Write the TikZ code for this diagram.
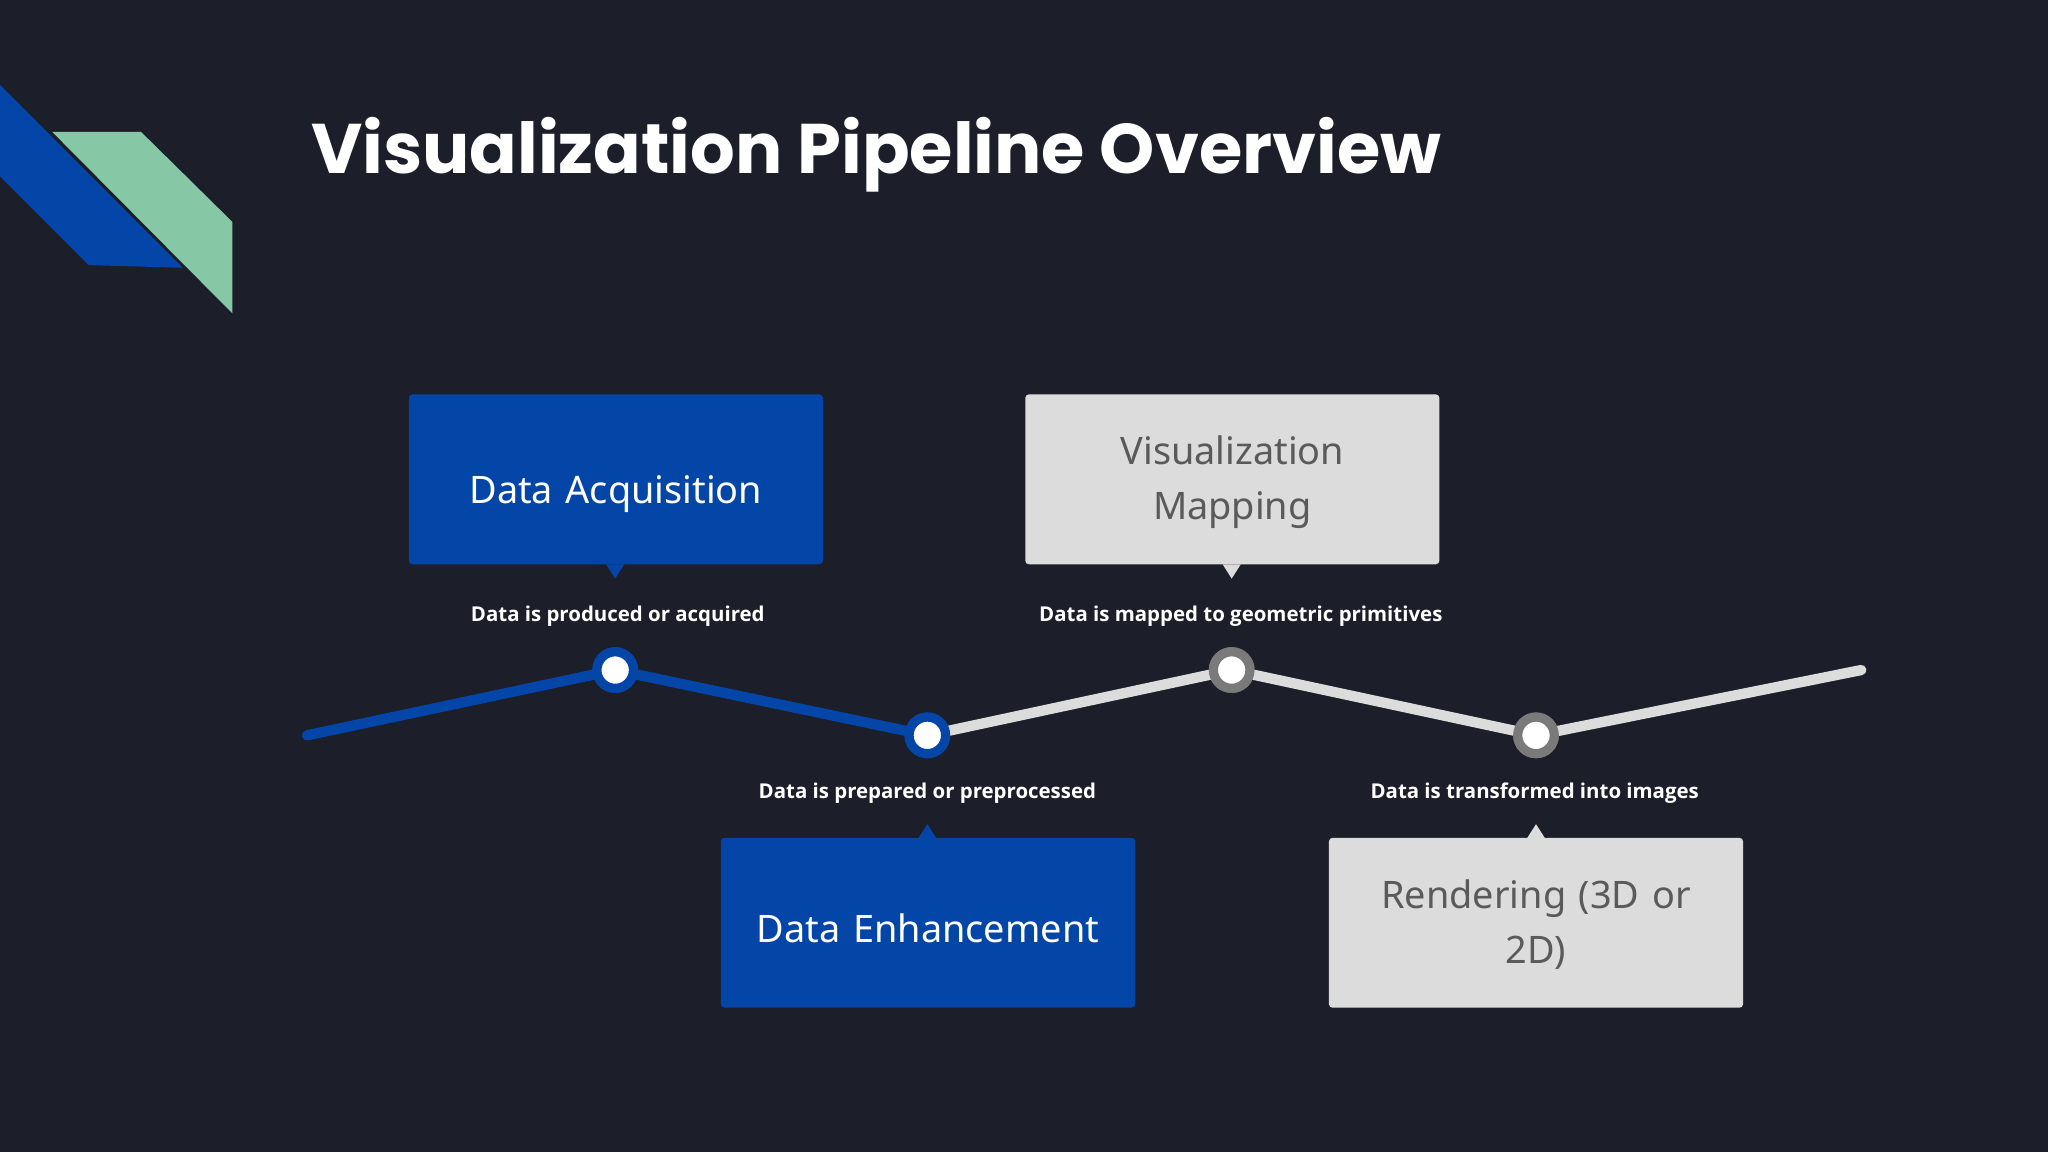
\documentclass[tikz,border=0pt]{standalone}
\usepackage{fontspec}
\setmainfont{Noto Sans}
\newfontfamily\titlefont{Poppins}
\newfontfamily\lblfont{Open Sans}
\begin{document}
\begin{tikzpicture}[x=0.02cm,y=-0.02cm,
  bx/.style={minimum width=317*0.02cm,minimum height=130*0.02cm,rounded corners=1.5pt,align=center,font=\fontsize{16.5}{24}\selectfont,text width=290*0.02cm},
  bt/.style={align=center,font=\fontsize{16.5}{24}\selectfont,text width=290*0.02cm},
  bluebox/.style={bx,fill=dblue},
  greybox/.style={bx,fill=lgrey},
  lbl/.style={text=white,font=\lblfont\bfseries\fontsize{8.9}{12}\selectfont},
  dotb/.style={circle,draw=dblue,line width=4pt,fill=white,minimum size=28*0.02cm,inner sep=0pt},
  dotg/.style={circle,draw=mgrey,line width=4pt,fill=white,minimum size=28*0.02cm,inner sep=0pt}]
\definecolor{bg}{HTML}{1C1F2A}
\definecolor{dblue}{HTML}{0445A8}
\definecolor{lgrey}{HTML}{DCDCDC}
\definecolor{tgrey}{HTML}{5A5A5A}
\definecolor{mgrey}{HTML}{7A7A7A}
\definecolor{mint}{HTML}{86C8A6}
\fill[bg] (0,0) rectangle (1568,882);
\useasboundingbox (0,0) rectangle (1568,882);
\fill[dblue] (0,65) -- (140,205) -- (68,203) -- (0,135) -- cycle;
\fill[mint] (40,101) -- (108,101) -- (178,170) -- (178,240) -- cycle;
\node[anchor=base west,text=white,font=\titlefont\bfseries\fontsize{30.6}{36}\selectfont,inner sep=0pt] (title) at (238,133) {Visualization Pipeline Overview};
% line
\coordinate (s) at (235,563); \coordinate (e) at (1425,513);
\node[dotb] (p1) at (471,513) {};
\node[dotb] (p2) at (710,563) {};
\node[dotg] (p3) at (943,513) {};
\node[dotg] (p4) at (1176,563) {};
\begin{scope}[line width=4.5pt,line cap=round]
\draw[dblue] (s) -- (p1) -- (p2);
\draw[lgrey] (p2) -- (p3) -- (p4) -- (e);
\end{scope}
\node[dotb] at (p1) {};
\node[dotb] at (p2) {};
\node[dotg] at (p3) {};
\node[dotg] at (p4) {};
% boxes
\node[bluebox] (b1) at (471.5,367) {};
\node[greybox] (b2) at (943.5,367) {};
\node[bluebox] (b3) at (710.5,706.5) {};
\node[greybox] (b4) at (1176,706.5) {};
\node[bt,text=white] (t1) at (471.5,378) {Data Acquisition};
\node[bt,text=tgrey] (t2) at (943.5,369) {Visualization\\Mapping};
\node[bt,text=white] (t3) at (710.5,711) {Data Enhancement};
\node[bt,text=tgrey] (t4) at (1176,708) {Rendering (3D or\\2D)};
\fill[dblue] (464,432) -- (478,432) -- (471,443) -- cycle;
\fill[lgrey] (936,432) -- (950,432) -- (943,443) -- cycle;
\fill[dblue] (703,642) -- (717,642) -- (710,631) -- cycle;
\fill[lgrey] (1169,642) -- (1183,642) -- (1176,631) -- cycle;
% labels
\node[lbl] (l1) at (473,472) {Data is produced or acquired};
\node[lbl] (l2) at (950,472) {Data is mapped to geometric primitives};
\node[lbl] (l3) at (710,607) {Data is prepared or preprocessed};
\node[lbl] (l4) at (1175,607) {Data is transformed into images};
\end{tikzpicture}
\end{document}
